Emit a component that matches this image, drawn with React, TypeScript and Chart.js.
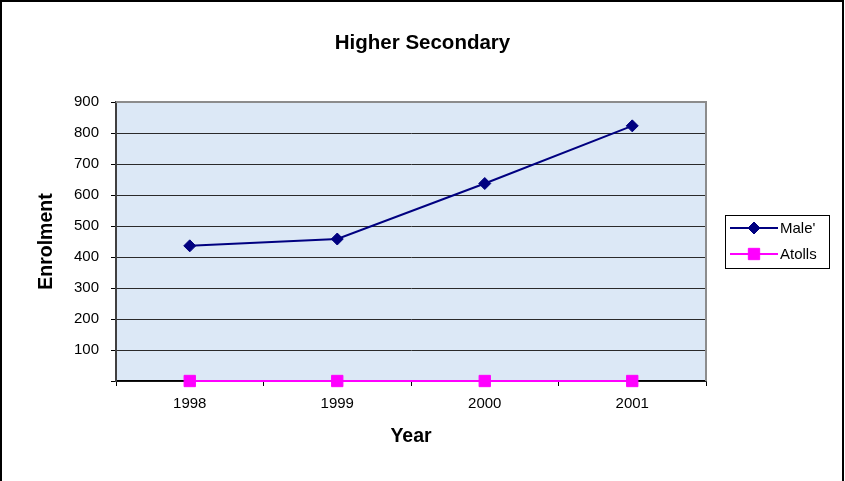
import React, { useEffect, useRef } from 'react';
import { Chart, registerables } from 'chart.js';

Chart.register(...registerables);

const TITLE = 'Higher Secondary';
const X_TITLE = 'Year';
const Y_TITLE = 'Enrolment';
const YEARS = ['1998', '1999', '2000', '2001'];
const SERIES_NAMES = ["Male'", 'Atolls'];
const MALE = [436, 458, 637, 823];
const ATOLLS = [0, 0, 0, 0];
const Y_MIN = 0;
const Y_MAX = 900;
const Y_STEP = 100;

const FONT = "'Liberation Sans', Arial, sans-serif";
const W = 845;
const H = 481;

const bgPlugin = {
  id: 'bgPlugin',
  beforeDraw(chart: any) {
    const { ctx, chartArea: a } = chart;
    ctx.save();
    ctx.fillStyle = '#ffffff';
    ctx.fillRect(0, 0, chart.width, chart.height);
    ctx.fillStyle = '#dce8f6';
    ctx.fillRect(a.left, a.top, a.right - a.left, a.bottom - a.top);
    ctx.restore();
  },
  beforeDatasetsDraw(chart: any) {
    const { ctx, chartArea: a } = chart;
    ctx.save();
    ctx.strokeStyle = '#8c8c8c';
    ctx.lineWidth = 2;
    ctx.beginPath();
    ctx.moveTo(a.left, a.top);
    ctx.lineTo(a.right, a.top);
    ctx.lineTo(a.right, a.bottom);
    ctx.stroke();
    ctx.restore();
  },
  afterDraw(chart: any) {
    const { ctx } = chart;
    ctx.save();
    ctx.strokeStyle = '#000';
    ctx.lineWidth = 2;
    ctx.beginPath();
    ctx.moveTo(1, H);
    ctx.lineTo(1, 1);
    ctx.lineTo(W - 2, 1);
    ctx.lineTo(W - 2, H);
    ctx.stroke();
    ctx.restore();
  },
};

function drawMarker(ctx: CanvasRenderingContext2D, style: string, x: number, y: number, r: number, color: string) {
  ctx.fillStyle = color;
  ctx.strokeStyle = color;
  ctx.lineWidth = 1;
  ctx.beginPath();
  if (style === 'rectRot') {
    ctx.moveTo(x - r, y);
    ctx.lineTo(x, y - r);
    ctx.lineTo(x + r, y);
    ctx.lineTo(x, y + r);
    ctx.closePath();
  } else {
    const s = Math.SQRT1_2 * r;
    ctx.rect(x - s, y - s, 2 * s, 2 * s);
  }
  ctx.fill();
  ctx.stroke();
}

const legendPlugin = {
  id: 'boxLegend',
  afterDraw(chart: any) {
    const { ctx, chartArea: a } = chart;
    const left = a.right + 19;
    const width = 104;
    const rowH = 26;
    const n = chart.data.datasets.length;
    const height = 53;
    const top = (a.top + a.bottom) / 2 - height / 2;
    ctx.save();
    ctx.fillStyle = '#ffffff';
    ctx.fillRect(left, top, width, height);
    ctx.strokeStyle = '#000';
    ctx.lineWidth = 1;
    ctx.strokeRect(Math.round(left) + 0.5, Math.round(top) + 0.5, width, height);
    ctx.font = `15px ${FONT}`;
    ctx.textBaseline = 'middle';
    ctx.textAlign = 'left';
    for (let i = 0; i < n; i++) {
      const ds = chart.data.datasets[i];
      const y = top + 13 + i * rowH;
      ctx.strokeStyle = ds.borderColor;
      ctx.lineWidth = ds.borderWidth;
      ctx.beginPath();
      ctx.moveTo(left + 5, y);
      ctx.lineTo(left + 53, y);
      ctx.stroke();
      drawMarker(ctx, ds.pointStyle, left + 29, y, ds.pointRadius, ds.borderColor);
      ctx.fillStyle = '#000';
      ctx.fillText(ds.label, left + 55, y + 1);
    }
    ctx.restore();
  },
};

export default function App() {
  const ref = useRef<HTMLCanvasElement | null>(null);

  useEffect(() => {
    if (!ref.current) return;
    const chart = new Chart(ref.current, {
      type: 'line',
      data: {
        labels: YEARS,
        datasets: [
          {
            label: SERIES_NAMES[0],
            data: MALE,
            borderColor: '#000080',
            backgroundColor: '#000080',
            borderWidth: 2,
            pointStyle: 'rectRot',
            pointRadius: 6,
            pointBorderWidth: 1,
            pointBackgroundColor: '#000080',
            pointBorderColor: '#000080',
            tension: 0,
            clip: false,
          } as any,
          {
            label: SERIES_NAMES[1],
            data: ATOLLS,
            borderColor: '#ff00ff',
            backgroundColor: '#ff00ff',
            borderWidth: 2,
            pointStyle: 'rect',
            pointRadius: 8,
            pointBorderWidth: 1,
            pointBackgroundColor: '#ff00ff',
            pointBorderColor: '#ff00ff',
            tension: 0,
            clip: false,
          } as any,
        ],
      },
      options: {
        responsive: false,
        animation: false,
        events: [],
        layout: { padding: 0 },
        plugins: {
          legend: { display: false },
          tooltip: { enabled: false },
          title: {
            display: true,
            text: TITLE,
            color: '#000',
            font: { family: FONT, size: 20.5, weight: 'bold' },
            padding: { top: 31, bottom: 46.4 },
          },
        },
        scales: {
          x: {
            type: 'category',
            offset: true,
            grid: {
              offset: true,
              drawOnChartArea: false,
              drawTicks: true,
              tickLength: 5,
              tickColor: '#000',
            },
            border: { color: '#000', width: 1.5 },
            ticks: {
              color: '#000',
              font: { family: FONT, size: 15 },
              padding: 9,
              maxRotation: 0,
            },
            title: {
              display: true,
              text: X_TITLE,
              color: '#000',
              font: { family: FONT, size: 19.5, weight: 'bold' },
              padding: { top: 4, bottom: 33 },
            },
            afterFit(scale: any) {
              scale.height = 100;
            },
          },
          y: {
            min: Y_MIN,
            max: Y_MAX,
            grid: {
              color: '#2a2a2a',
              lineWidth: 1,
              drawTicks: true,
              tickLength: 5,
              tickColor: '#000',
            },
            border: { color: '#404040', width: 2 },
            ticks: {
              stepSize: Y_STEP,
              color: '#000',
              font: { family: FONT, size: 15 },
              padding: 12,
              callback: (v: any) => (Number(v) === 0 ? '' : String(v)),
            },
            title: {
              display: true,
              text: Y_TITLE,
              color: '#000',
              font: { family: FONT, size: 19.5, weight: 'bold' },
              padding: { top: 35, bottom: 4 },
            },
            afterFit(scale: any) {
              scale.width = 116;
            },
          },
          legendSpace: {
            type: 'linear',
            position: 'right',
            display: true,
            grid: { display: false, drawTicks: false },
            border: { display: false },
            ticks: { display: false },
            afterFit(scale: any) {
              scale.width = 139;
            },
          },
        },
      },
      plugins: [bgPlugin, legendPlugin],
    });
    return () => chart.destroy();
  }, []);

  return (
    <div style={{ position: 'absolute', left: 0, top: 0, width: W, height: H, background: '#fff' }}>
      <canvas ref={ref} width={W} height={H} style={{ display: 'block' }} />
    </div>
  );
}
